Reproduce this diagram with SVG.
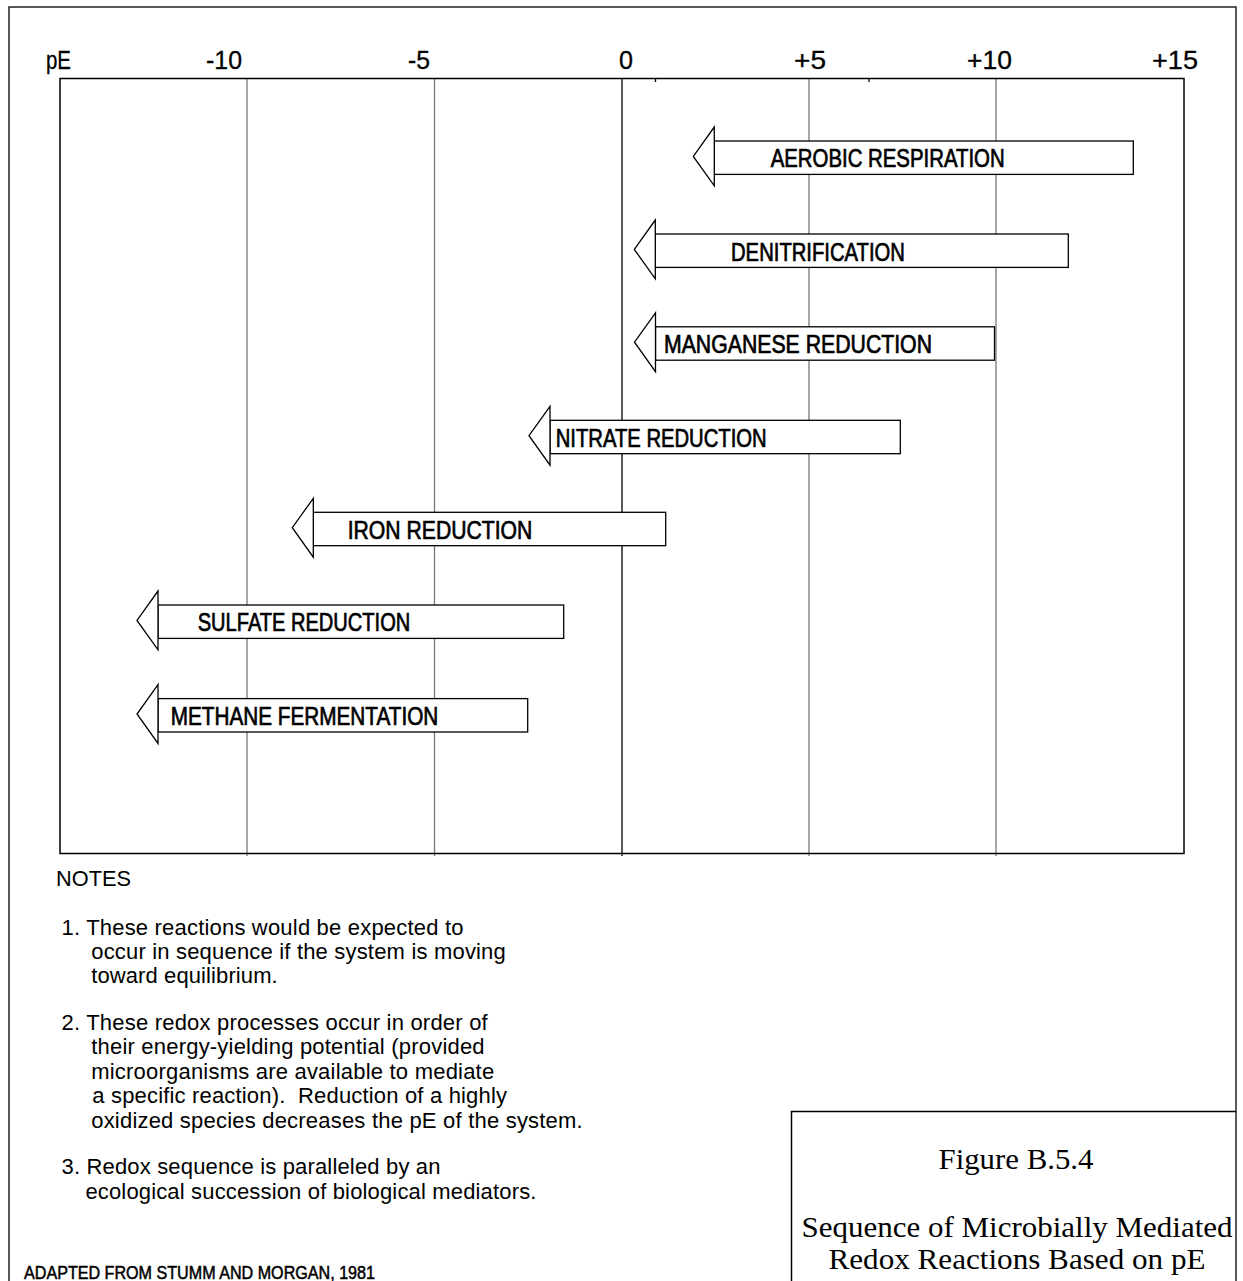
<svg xmlns="http://www.w3.org/2000/svg" width="1243" height="1281" viewBox="0 0 1243 1281">
<style>
.bg{fill:#fff}
.frame{fill:none;stroke:#222;stroke-width:1.5}
.box{fill:none;stroke:#000;stroke-width:1.5}
.grid{stroke:#777;stroke-width:1.3}
.grid0{stroke:#000;stroke-width:1.3}
.tick{stroke:#000;stroke-width:1.3}
.arr{fill:#fff;stroke:#000;stroke-width:1.3;stroke-linejoin:miter}
.ax{font-family:"Liberation Sans",Arial,sans-serif;font-size:25px;fill:#000;stroke:#000;stroke-width:0.3}
.lbl{font-family:"Liberation Sans",Arial,sans-serif;font-size:25px;fill:#000;stroke:#000;stroke-width:0.7}
.note{font-family:"Liberation Sans",Arial,sans-serif;font-size:22px;fill:#000}
.src{font-family:"Liberation Sans",Arial,sans-serif;font-size:18px;fill:#000;stroke:#000;stroke-width:0.5}
.fig{font-family:"Liberation Serif","Times New Roman",serif;font-size:30px;fill:#000;text-anchor:middle}
</style>
<rect class="bg" x="0" y="0" width="1243" height="1281"/>
<rect class="frame" x="9" y="7" width="1227" height="1300"/>

<g id="axis">
  <g id="gridlines">
    <line class="grid" x1="247" y1="78.5" x2="247" y2="856"/>
    <line class="grid" x1="434.5" y1="78.5" x2="434.5" y2="856"/>
    <line class="grid0" x1="622" y1="78.5" x2="622" y2="856"/>
    <line class="grid" x1="809" y1="78.5" x2="809" y2="856"/>
    <line class="grid" x1="996" y1="78.5" x2="996" y2="856"/>
    <line class="tick" x1="655.5" y1="78.5" x2="655.5" y2="82"/>
    <line class="tick" x1="869" y1="78.5" x2="869" y2="82"/>
  </g>
  <rect class="box" x="60" y="78.5" width="1124" height="775"/>
  <text class="ax" x="46" y="69" textLength="25" lengthAdjust="spacingAndGlyphs">pE</text>
  <text class="ax" x="206" y="69" textLength="36" lengthAdjust="spacingAndGlyphs">-10</text>
  <text class="ax" x="408" y="69" textLength="22" lengthAdjust="spacingAndGlyphs">-5</text>
  <text class="ax" x="619" y="69" textLength="14" lengthAdjust="spacingAndGlyphs">0</text>
  <text class="ax" x="794" y="69" textLength="32" lengthAdjust="spacingAndGlyphs">+5</text>
  <text class="ax" x="967" y="69" textLength="45" lengthAdjust="spacingAndGlyphs">+10</text>
  <text class="ax" x="1152" y="69" textLength="46" lengthAdjust="spacingAndGlyphs">+15</text>
</g>

<g id="connectors"></g>

<g id="aerobic-respiration">
  <rect class="arr" x="714.3" y="141" width="419" height="33.4"/>
  <polygon class="arr" points="714.3,127 693.3,156.4 714.3,185.8"/>
  <text class="lbl" x="770.7" y="167.3" textLength="234" lengthAdjust="spacingAndGlyphs">AEROBIC RESPIRATION</text>
</g>
<g id="denitrification">
  <rect class="arr" x="655.3" y="234" width="413" height="33.4"/>
  <polygon class="arr" points="655.3,220 634.3,249.4 655.3,278.8"/>
  <text class="lbl" x="731" y="260.5" textLength="174" lengthAdjust="spacingAndGlyphs">DENITRIFICATION</text>
</g>
<g id="manganese-reduction">
  <rect class="arr" x="655.5" y="326.8" width="339" height="33.4"/>
  <polygon class="arr" points="655.5,312.8 634.5,342.2 655.5,371.6"/>
  <text class="lbl" x="664" y="353.2" textLength="268" lengthAdjust="spacingAndGlyphs">MANGANESE REDUCTION</text>
</g>
<g id="nitrate-reduction">
  <rect class="arr" x="550" y="420.3" width="350.3" height="33.4"/>
  <polygon class="arr" points="550,406.3 529,435.7 550,465.1"/>
  <text class="lbl" x="555.7" y="446.7" textLength="211" lengthAdjust="spacingAndGlyphs">NITRATE REDUCTION</text>
</g>
<g id="iron-reduction">
  <rect class="arr" x="313.3" y="512.3" width="352.4" height="33.4"/>
  <polygon class="arr" points="313.3,498.3 292.3,527.7 313.3,557.1"/>
  <text class="lbl" x="347.7" y="538.6" textLength="184.6" lengthAdjust="spacingAndGlyphs">IRON REDUCTION</text>
</g>
<g id="sulfate-reduction">
  <rect class="arr" x="158" y="605" width="405.7" height="33.4"/>
  <polygon class="arr" points="158,591 137,620.4 158,649.8"/>
  <text class="lbl" x="197.7" y="631.4" textLength="212.6" lengthAdjust="spacingAndGlyphs">SULFATE REDUCTION</text>
</g>
<g id="methane-fermentation">
  <rect class="arr" x="158" y="698.6" width="369.7" height="33.4"/>
  <polygon class="arr" points="158,684.6 137,714 158,743.4"/>
  <text class="lbl" x="170.7" y="725" textLength="267.6" lengthAdjust="spacingAndGlyphs">METHANE FERMENTATION</text>
</g>

<g id="notes">
  <text class="note" x="56" y="886" textLength="75" lengthAdjust="spacingAndGlyphs">NOTES</text>
  <text class="note" x="61.5" y="935" textLength="402" lengthAdjust="spacing">1. These reactions would be expected to</text>
  <text class="note" x="91.2" y="959" textLength="414.6" lengthAdjust="spacing">occur in sequence if the system is moving</text>
  <text class="note" x="91.2" y="983" textLength="186.5" lengthAdjust="spacing">toward equilibrium.</text>
  <text class="note" x="61.5" y="1030" textLength="426.2" lengthAdjust="spacing">2. These redox processes occur in order of</text>
  <text class="note" x="91.2" y="1054" textLength="393.4" lengthAdjust="spacing">their energy-yielding potential (provided</text>
  <text class="note" x="91.2" y="1078.5" textLength="403" lengthAdjust="spacing">microorganisms are available to mediate</text>
  <text class="note" x="92.3" y="1103" textLength="414.7" lengthAdjust="spacing" xml:space="preserve">a specific reaction).  Reduction of a highly</text>
  <text class="note" x="91.2" y="1127.5" textLength="491.5" lengthAdjust="spacing">oxidized species decreases the pE of the system.</text>
  <text class="note" x="61.5" y="1174" textLength="379" lengthAdjust="spacing">3. Redox sequence is paralleled by an</text>
  <text class="note" x="85.4" y="1198.5" textLength="451" lengthAdjust="spacing">ecological succession of biological mediators.</text>
  <text class="src" x="24" y="1279" textLength="351" lengthAdjust="spacingAndGlyphs">ADAPTED FROM STUMM AND MORGAN, 1981</text>
</g>

<g id="figure-title">
  <polyline class="box" points="791.5,1290 791.5,1111.5 1236,1111.5"/>
  <text class="fig" x="1016" y="1169" textLength="155" lengthAdjust="spacingAndGlyphs">Figure B.5.4</text>
  <text class="fig" x="1017" y="1237" textLength="431" lengthAdjust="spacingAndGlyphs">Sequence of Microbially Mediated</text>
  <text class="fig" x="1017" y="1269" textLength="377" lengthAdjust="spacingAndGlyphs">Redox Reactions Based on pE</text>
</g>
</svg>
